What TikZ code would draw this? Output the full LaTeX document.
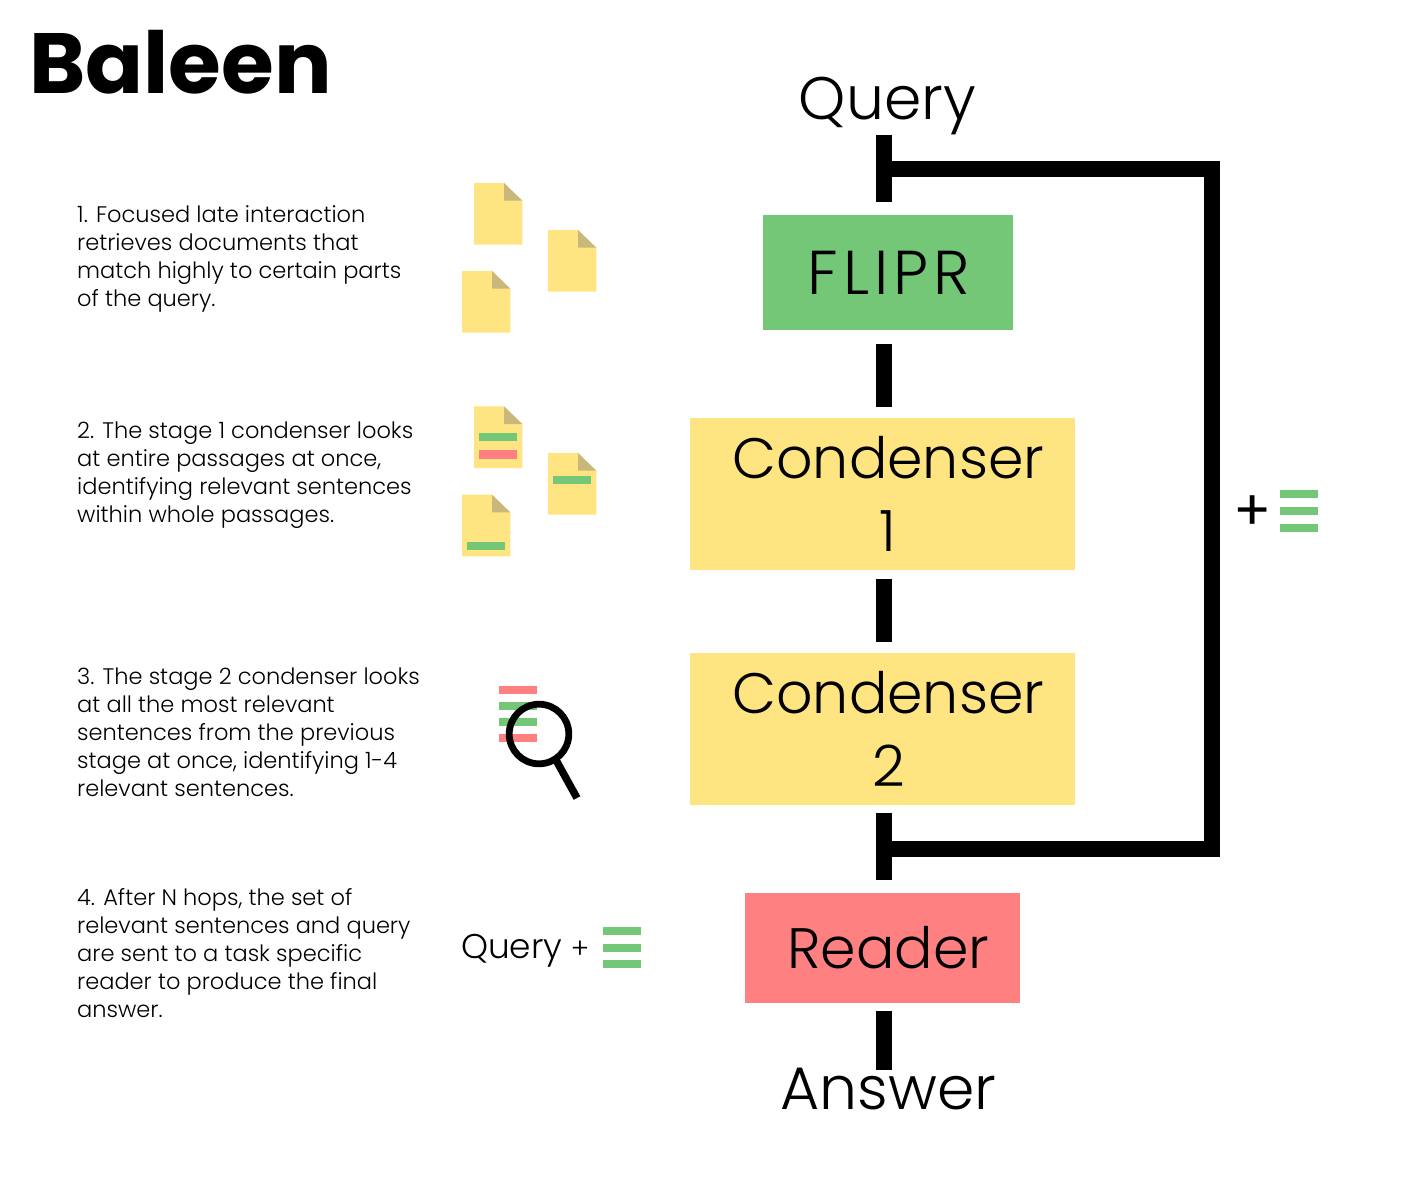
\documentclass[tikz,border=0pt]{standalone}
\usepackage{fontspec}
\setmainfont{Poppins}
\newfontfamily\lightfont{Poppins Light}
\definecolor{boxgreen}{HTML}{73C776}
\definecolor{boxyellow}{HTML}{FFE482}
\definecolor{boxred}{HTML}{FF8080}
\definecolor{foldtan}{HTML}{C8B87C}
\tikzset{
    wire/.style={line width=16pt, line join=miter},
    stagebox/.style={rectangle, inner sep=0pt, align=center, font=\lightfont\fontsize{57}{73}\selectfont},
    bigtext/.style={inner sep=0pt, anchor=base, font=\lightfont\fontsize{60}{73}\selectfont},
    notetext/.style={inner sep=0pt, anchor=north west, align=left, font=\lightfont\fontsize{22.5}{28}\selectfont},
}
\begin{document}
\begin{tikzpicture}[x=1pt, y=-1pt]
    \useasboundingbox (0,0) rectangle (1403,1176);

    % title
    \node[inner sep=0pt, anchor=base west, font=\bfseries\fontsize{85.5}{85.5}\selectfont] (title) at (29,93) {Baleen};

    % notes on the left
    \node[notetext] (note1) at (77,205) {1. Focused late interaction\\retrieves documents that\\match highly to certain parts\\of the query.};
    \node[notetext] (note2) at (77,422) {2. The stage 1 condenser looks\\at entire passages at once,\\identifying relevant sentences\\within whole passages.};
    \node[notetext] (note3) at (77,668) {3. The stage 2 condenser looks\\at all the most relevant\\sentences from the previous\\stage at once, identifying 1-4\\relevant sentences.};
    \node[notetext] (note4) at (77,888) {4. After N hops, the set of\\relevant sentences and query\\are sent to a task specific\\reader to produce the final\\answer.};

    % documents
    \foreach \dx/\dy in {474/183, 548/230, 462/271, 474/406.3, 548/453, 462/494.7} {
        \fill[boxyellow] (\dx,\dy) -- ++(30,0) -- ++(18.3,17.7) -- ++(0,44) -- ++(-48.3,0) -- cycle;
        \fill[foldtan] (\dx+30,\dy) -- ++(18.3,17.7) -- ++(-18.3,0) -- cycle;
    }

    % highlighted sentences
    \foreach \bx/\by/\bc in {479.3/432.7/boxgreen, 479.3/450.3/boxred, 553/475.7/boxgreen, 467/542/boxgreen,
        499/686/boxred, 499/701.5/boxgreen, 499/718/boxgreen, 499/733.5/boxred,
        603/927/boxgreen, 603/943.7/boxgreen, 603/960/boxgreen,
        1280/490/boxgreen, 1280/507/boxgreen, 1280/524/boxgreen} {
        \fill[fill=\bc] (\bx,\by) rectangle ++(38,8.4);
    }

    % magnifying glass
    \draw[line width=6.8pt] (539,734) circle (29.8pt);
    \draw[line width=7.5pt] (556.5,761) -- (577,798);

    % stages
    \node[stagebox, fill=boxgreen, minimum width=250pt, minimum height=115pt] (flipr) at (887.5,272.5) {\hspace*{3pt}\fontsize{62}{73}\selectfont\addfontfeature{LetterSpace=8}FLIPR};
    \node[stagebox, fill=boxyellow, minimum width=384.5pt, minimum height=152pt] (cond1) at (882.3,493.5) {\hspace*{12pt}Condenser\\\hspace*{12pt}1};
    \node[stagebox, fill=boxyellow, minimum width=384.5pt, minimum height=152pt] (cond2) at (882.3,728.5) {\hspace*{12pt}Condenser\\\hspace*{12pt}2};
    \node[stagebox, fill=boxred, minimum width=275pt, minimum height=110.5pt] (reader) at (882.5,948) {\hspace*{12pt}Reader};

    % query and answer
    \node[bigtext] (query) at (887.5,119) {Query};
    \node[bigtext] (answer) at (888.5,1109) {Answer};
    \node[inner sep=0pt, anchor=base west, font=\lightfont\fontsize{34.3}{35}\selectfont] (querylist) at (461,958) {Query \fontsize{28}{35}\selectfont\hspace*{-1pt}+};
    \node[inner sep=0pt, font=\fontsize{56}{56}\selectfont] (plus) at (1252.5,513) {+};

    % wires
    \coordinate (spine) at (884,0);
    \coordinate (looptop) at (884,168.5);
    \coordinate (loopbottom) at (884,848.5);
    \draw[wire, shorten >=13pt] (query.south -| spine) -- (flipr.north -| spine);
    \draw[wire, shorten <=14pt, shorten >=10pt] (flipr.south -| spine) -- (cond1.north -| spine);
    \draw[wire, shorten <=9pt, shorten >=10pt] (cond1.south -| spine) -- (cond2.north -| spine);
    \draw[wire, shorten <=8pt, shorten >=13pt] (cond2.south -| spine) -- (reader.north -| spine);
    \draw[wire, shorten <=8pt, shorten >=-3pt] (reader.south -| spine) -- (answer.north -| spine);
    \draw[wire] (looptop) -- ++(327.5,0) -- ++(0,680) -- (loopbottom);
\end{tikzpicture}
\end{document}
